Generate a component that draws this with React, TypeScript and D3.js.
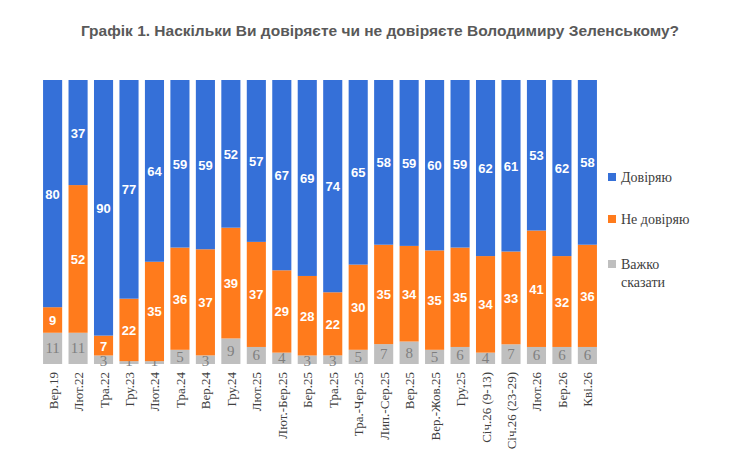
import * as d3 from 'd3';

const categories = ['Вер.19', 'Лют.22', 'Тра.22', 'Гру.23', 'Лют.24', 'Тра.24', 'Вер.24', 'Гру.24', 'Лют.25', 'Лют.-Бер.25', 'Бер.25', 'Тра.25', 'Тра.-Чер.25', 'Лип.-Сер.25', 'Вер.25', 'Вер.-Жов.25', 'Гру.25', 'Січ.26 (9-13)', 'Січ.26 (23-29)', 'Лют.26', 'Бер.26', 'Кві.26'];
const trust = [80, 37, 90, 77, 64, 59, 59, 52, 57, 67, 69, 74, 65, 58, 59, 60, 59, 62, 61, 53, 62, 58];
const distrust = [9, 52, 7, 22, 35, 36, 37, 39, 37, 29, 28, 22, 30, 35, 34, 35, 35, 34, 33, 41, 32, 36];
const hard = [11, 11, 3, 1, 1, 5, 3, 9, 6, 4, 3, 3, 5, 7, 8, 5, 6, 4, 7, 6, 6, 6];

const BLUE = '#3570d8';
const ORANGE = '#ff7b1c';
const GRAY = '#bfbfbf';

export default function App() {
  const x = d3.scaleBand().domain(categories).range([40, 600]).paddingInner(0.25).paddingOuter(0.12);
  const y = d3.scaleLinear().domain([0, 1]).range([364, 80]);
  const serif = '"Liberation Serif", "Times New Roman", serif';
  const sans = '"Liberation Sans", Arial, sans-serif';

  return (
    <svg width={740} height={467} style={{ display: 'block', position: 'absolute', left: 0, top: 0 }}>
      <rect width={740} height={467} fill="#fff" />
      <text x={380} y={36} textAnchor="middle" fontFamily={sans} fontWeight="bold" fontSize={15.5} fill="#595959">
        Графік 1. Наскільки Ви довіряєте чи не довіряєте Володимиру Зеленському?
      </text>
      {categories.map((c, i) => {
        const x0 = x(c)!;
        const w = x.bandwidth();
        const cx = x0 + w / 2;
        const h = hard[i], d = distrust[i], t = trust[i];
        const total = h + d + t;
        const segs = [
          { v: h, base: 0, color: GRAY, tc: '#7f7f7f', bold: false, font: serif },
          { v: d, base: h, color: ORANGE, tc: '#fff', bold: true, font: sans },
          { v: t, base: h + d, color: BLUE, tc: '#fff', bold: true, font: sans },
        ];
        return (
          <g key={c}>
            {segs.map((s, j) => {
              const y1 = y((s.base + s.v) / total), y0 = y(s.base / total);
              const mid = (y0 + y1) / 2;
              const ty = s.v <= 3 ? y0 + 2 : mid + 5;
              return (
                <g key={j}>
                  <rect x={x0} y={y1} width={w} height={Math.max(0, y0 - y1)} fill={s.color} />
                  <text x={cx} y={ty} textAnchor="middle" fontFamily={s.font} fontSize={s.bold ? 13 : 15} fontWeight={s.bold ? 'bold' : 'normal'} fill={s.tc}>{s.v}</text>
                </g>
              );
            })}
            <text transform={`translate(${cx + 5},372) rotate(-90)`} textAnchor="end" fontFamily={serif} fontSize={13} fill="#404040">{c}</text>
          </g>
        );
      })}
      <g fontFamily={serif} fontSize={14} fill="#404040">
        <rect x={608} y={173} width={8} height={8} fill={BLUE} />
        <text x={621} y={182}>Довіряю</text>
        <rect x={608} y={215} width={8} height={8} fill={ORANGE} />
        <text x={621} y={224}>Не довіряю</text>
        <rect x={608} y={260} width={8} height={8} fill={GRAY} />
        <text x={621} y={269}>Важко</text>
        <text x={621} y={287}>сказати</text>
      </g>
    </svg>
  );
}
